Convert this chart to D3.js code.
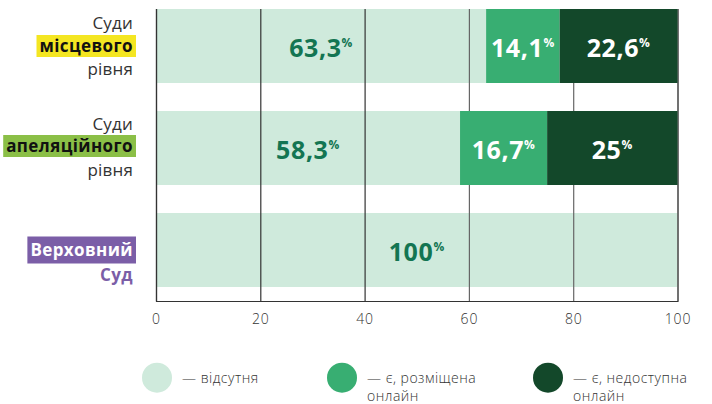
<!DOCTYPE html>
<html lang="uk">
    <head>
        <meta charset="utf-8">
        <title>Суди: наявність інформації</title>
        <script type="text/javascript" src="https://cdn.jsdelivr.net/npm/d3@7/dist/d3.min.js"></script>
        <style>
            body { margin: 0; background: #fff; }
            svg { display: block; }
        </style>
    </head>
    <body>
        <script type="text/javascript">
            // data
            var courts = ["local", "appeal", "supreme"];
            var courtLines = [
                ["Суди", "місцевого", "рівня"],
                ["Суди", "апеляційного", "рівня"],
                ["Верховний", "Суд"]
            ];
            var absent = [63.3, 58.3, 100];
            var online = [14.1, 16.7, 0];
            var offline = [22.6, 25, 0];
            var valueLabels = [
                ["63,3", "14,1", "22,6"],
                ["58,3", "16,7", "25"],
                ["100", "", ""]
            ];
            var xTicks = [0, 20, 40, 60, 80, 100];
            var legendLabels = [["— відсутня"], ["— є, розміщена", "онлайн"], ["— є, недоступна", "онлайн"]];

            //width and height
            var svgWidth = 712;
            var svgHeight = 404;
            var colors = ["#cfeadc", "#38ae72", "#13482a"];
            var textColors = ["#137552", "#ffffff", "#ffffff"];

            var svg = d3.select("body")
                        .append("svg")
                        .attr("width", svgWidth)
                        .attr("height", svgHeight);

            var xScale = d3.scaleLinear()
                           .domain([0, 100])
                           .range([156, 677.5]);

            var yScale = d3.scaleBand()
                           .domain(courts)
                           .range([9, 287])
                           .paddingInner(28 / 102)
                           .paddingOuter(0);

            var axisY = 301;

            // build stacked rows
            var rows = courts.map(function(c, i) {
                return { court: c, absent: absent[i], online: online[i], offline: offline[i] };
            });
            var stack = d3.stack().keys(["absent", "online", "offline"]);
            var series = stack(rows);

            function drawSeries(s) {
                svg.append("g")
                    .selectAll("rect")
                    .data(s)
                    .enter()
                    .append("rect")
                    .attr("x", function(d) { return xScale(d[0]); })
                    .attr("y", function(d) { return yScale(d.data.court); })
                    .attr("width", function(d) { return xScale(d[1]) - xScale(d[0]); })
                    .attr("height", yScale.bandwidth())
                    .attr("fill", colors[s.index]);
            }

            // light segments first, grid on top, then the darker ones
            drawSeries(series[0]);

            var xAxis = d3.axisBottom(xScale)
                          .tickValues(xTicks)
                          .tickSize(-(axisY - 9))
                          .tickPadding(13)
                          .tickFormat(d3.format("d"));

            var X = svg.append("g")
                       .attr("transform", "translate(0," + axisY + ")")
                       .call(xAxis);
            X.select(".domain").attr("stroke", "#333").attr("stroke-width", 1.2);
            X.selectAll(".tick line")
                .attr("stroke", function(d) { return d >= 60 ? "#666" : "#333"; })
                .attr("stroke-width", 1.2);
            X.selectAll(".tick text")
                .attr("fill", "#333")
                .attr("font-family", "'Open Sans', sans-serif")
                .attr("font-weight", 300)
                .attr("font-size", "14px")
                .attr("letter-spacing", "0.8px");

            drawSeries(series[1]);
            drawSeries(series[2]);

            // value labels
            series.forEach(function(s) {
                s.forEach(function(d, i) {
                    var lbl = valueLabels[i][s.index];
                    if (!lbl) return;
                    var t = svg.append("text")
                        .attr("x", (xScale(d[0]) + xScale(d[1])) / 2)
                        .attr("y", yScale(d.data.court) + yScale.bandwidth() / 2 + 11)
                        .attr("text-anchor", "middle")
                        .attr("font-family", "'Open Sans', sans-serif")
                        .attr("font-weight", 700)
                        .attr("font-size", "25px")
                        .attr("letter-spacing", "0.6px")
                        .attr("fill", textColors[s.index]);
                    t.append("tspan").text(lbl);
                    t.append("tspan")
                        .attr("font-size", "12px")
                        .attr("dy", "-10")
                        .text("%");
                });
            });

            // category labels
            var tagStyle = [
                { bg: "#f4e622", fg: "#111", line: 1 },
                { bg: "#8bbf47", fg: "#111", line: 1 },
                { bg: "#7b5ea7", fg: "#fff", line: 0 }
            ];
            var lineOffsets = [[-23, 0, 23], [-24, -2, 22], [0, 25]];

            courtLines.forEach(function(lines, i) {
                var cy = yScale(courts[i]) + yScale.bandwidth() / 2;
                var g = svg.append("g");
                lines.forEach(function(line, j) {
                    var tag = tagStyle[i];
                    var isTag = j === tag.line;
                    var isPurple = i === 2 && j === 1;
                    var t = g.append("text")
                        .attr("x", 133)
                        .attr("y", cy + lineOffsets[i][j] + 6)
                        .attr("text-anchor", "end")
                        .attr("font-family", "'Open Sans', sans-serif")
                        .attr("font-size", "17px")
                        .attr("font-weight", (isTag || isPurple) ? 700 : 400)
                        .attr("letter-spacing", (isTag || isPurple) ? "0.4px" : "0.2px")
                        .attr("fill", isTag ? tag.fg : (isPurple ? "#7b5ea7" : "#333"))
                        .text(line);
                    if (isTag) {
                        var bb = t.node().getBBox();
                        var h = i === 2 ? 27 : 22;
                        g.insert("rect", "text")
                            .attr("x", bb.x - 3)
                            .attr("y", cy + lineOffsets[i][j] - h / 2)
                            .attr("width", 136 - (bb.x - 3))
                            .attr("height", h)
                            .attr("fill", tag.bg);
                    }
                });
            });

            // legend
            var legendX = [157, 342, 548];
            var legend = svg.append("g");
            legendLabels.forEach(function(lines, i) {
                legend.append("circle")
                    .attr("cx", legendX[i])
                    .attr("cy", 377.7)
                    .attr("r", 15)
                    .attr("fill", colors[i]);
                lines.forEach(function(line, j) {
                    legend.append("text")
                        .attr("x", legendX[i] + 25)
                        .attr("y", 383 + j * 18)
                        .attr("font-family", "'Open Sans', sans-serif")
                        .attr("font-weight", 300)
                        .attr("font-size", "14px")
                        .attr("letter-spacing", "0.5px")
                        .attr("fill", "#333")
                        .text(line);
                });
            });
        </script>
    </body>
</html>
